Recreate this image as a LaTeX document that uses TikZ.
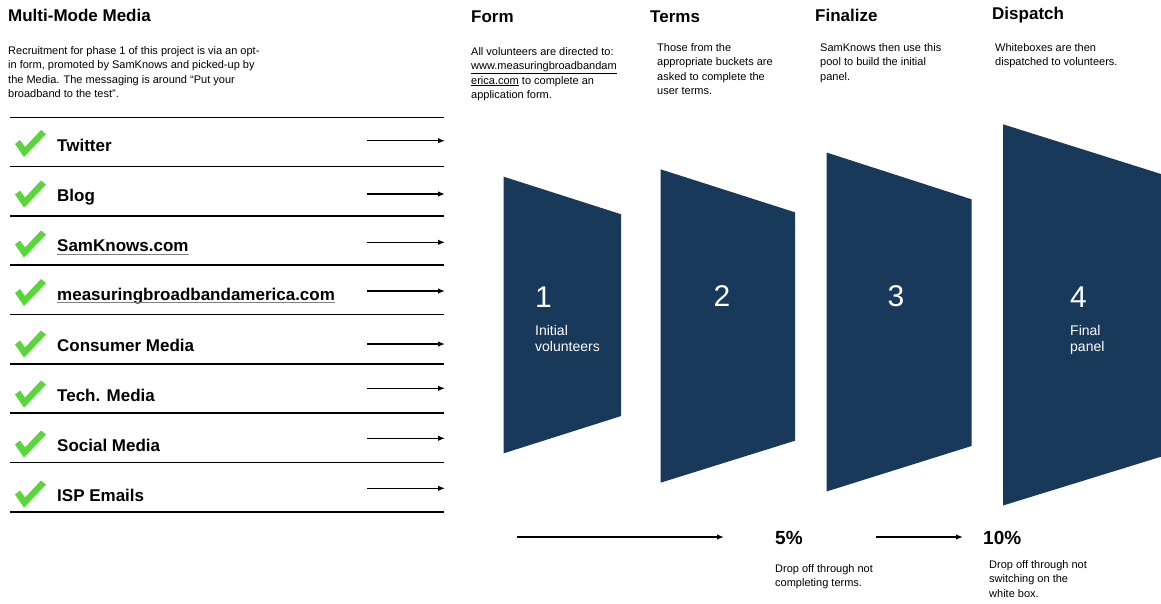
\documentclass[tikz,border=0pt]{standalone}
\usepackage{fontspec}
\setmainfont{Liberation Sans}
\usepackage{xcolor}
\usetikzlibrary{positioning,arrows.meta}
\definecolor{navy}{RGB}{25,57,91}
\definecolor{okgreen}{RGB}{88,214,58}
\tikzset{
  head/.style={anchor=west, inner sep=0pt, font=\fontsize{17}{20}\selectfont\bfseries},
  note/.style={anchor=north west, inner sep=0pt, align=left, font=\fontsize{11}{14.5}\selectfont},
  item/.style={anchor=base west, inner sep=0pt, font=\fontsize{17}{20}\selectfont\bfseries},
  pct/.style={anchor=west, inner sep=0pt, font=\fontsize{19}{22}\selectfont\bfseries},
  rule/.style={line width=1.6pt},
  feed/.style={-{Latex[length=7pt,width=5.5pt]}, line width=1.3pt},
  ulin/.style={gray, line width=0.8pt},
  big/.style={inner sep=0pt, text=white, font=\fontsize{30}{32}\selectfont},
  small/.style={anchor=north west, inner sep=0pt, align=left, text=white, font=\fontsize{14}{16.5}\selectfont},
  pics/okmark/.style={code={\fill[okgreen] (-16,-1) -- (-11,-5) -- (-6,2) -- (10,-15) -- (15,-11) -- (-7,12) -- cycle;}}
}

\begin{document}
\begin{tikzpicture}[x=1pt,y=-1pt]
\fill[white] (0,0) rectangle (1161,603);
\useasboundingbox (0,0) rectangle (1161,603);

\node[head] (mm) at (8,15) {Multi-Mode Media};
\node[note] (intro) at (8,46) {Recruitment for phase 1 of this project is via an opt-\\in form, promoted by SamKnows and picked-up by\\the Media. The messaging is around “Put your\\broadband to the test”.};

\draw[rule] (10,117.3) -- (444,117.3);
\draw[rule] (10,166.6) -- (444,166.6);
\draw[rule] (10,215.9) -- (444,215.9);
\draw[rule] (10,265.2) -- (444,265.2);
\draw[rule] (10,314.5) -- (444,314.5);
\draw[rule] (10,363.8) -- (444,363.8);
\draw[rule] (10,413.1) -- (444,413.1);
\draw[rule] (10,462.4) -- (444,462.4);
\draw[rule] (10,511.7) -- (444,511.7);

\pic at (31,145) {okmark};
\node[item] (tw) at (57,151) {Twitter};
\pic at (31,195.5) {okmark};
\node[item] (blog) at (57,201.7) {Blog};
\pic at (31,245.5) {okmark};
\node[item] (sk) at (57,251.7) {SamKnows.com};
\draw[ulin] ([yshift=-2.5pt]sk.base west) -- ([yshift=-2.5pt]sk.base east);
\pic at (31,294) {okmark};
\node[item] (mba) at (57,300) {measuringbroadbandamerica.com};
\draw[ulin] ([yshift=-2.5pt]mba.base west) -- ([yshift=-2.5pt]mba.base east);
\pic at (31,345.5) {okmark};
\node[item] (cons) at (57,351.7) {Consumer Media};
\pic at (31,395.5) {okmark};
\node[item] (tech) at (57,401.7) {Tech. Media};
\pic at (31,445.5) {okmark};
\node[item] (soc) at (57,451.7) {Social Media};
\pic at (31,495.5) {okmark};
\node[item] (isp) at (57,501.7) {ISP Emails};

\coordinate (tw0) at (367,140.7);   \coordinate (tw1) at (445,140.7);
\coordinate (blog0) at (367,194);   \coordinate (blog1) at (445,194);
\coordinate (sk0) at (367,242.3);   \coordinate (sk1) at (445,242.3);
\coordinate (mba0) at (367,291);    \coordinate (mba1) at (445,291);
\coordinate (cons0) at (367,344);   \coordinate (cons1) at (445,344);
\coordinate (tech0) at (367,388.3); \coordinate (tech1) at (445,388.3);
\coordinate (soc0) at (367,438.3);  \coordinate (soc1) at (445,438.3);
\coordinate (isp0) at (367,488.3);  \coordinate (isp1) at (445,488.3);
\draw[feed] (tw0) -- (tw1);
\draw[feed] (blog0) -- (blog1);
\draw[feed] (sk0) -- (sk1);
\draw[feed] (mba0) -- (mba1);
\draw[feed] (cons0) -- (cons1);
\draw[feed] (tech0) -- (tech1);
\draw[feed] (soc0) -- (soc1);
\draw[feed] (isp0) -- (isp1);

\node[head] (form) at (471,17) {Form};
\node[head] (terms) at (650,17) {Terms};
\node[head] (fin) at (815,15) {Finalize};
\node[head] (disp) at (992,15) {Dispatch};
\node[note] (formtxt) at (471,47) {All volunteers are directed to:\\\underline{www.measuringbroadbandam}\\\underline{erica.com} to complete an\\application form.};
\node[note] (termstxt) at (657,43) {Those from the\\appropriate buckets are\\asked to complete the\\user terms.};
\node[note] (fintxt) at (820,43) {SamKnows then use this\\pool to build the initial\\panel.};
\node[note] (disptxt) at (995,43) {Whiteboxes are then\\dispatched to volunteers.};

\fill[navy] (503.7,176.7) -- (621.2,214.3) -- (621.2,416) -- (503.7,453.3) -- cycle;
\fill[navy] (660.5,169.3) -- (795,212.3) -- (795,440.7) -- (660.5,482.7) -- cycle;
\fill[navy] (826.5,152.5) -- (971.5,199.3) -- (971.5,446) -- (826.5,491.5) -- cycle;
\fill[navy] (1003,124.3) -- (1161,174) -- (1161,456.7) -- (1003,505.5) -- cycle;

\node[big, anchor=base west] (n1) at (535,307) {1};
\node[small] (n1txt) at (535,325) {Initial\\volunteers};
\node[big] (n2) at (722,296) {2};
\node[big] (n3) at (896,296) {3};
\node[big, anchor=base west] (n4) at (1070,307) {4};
\node[small] (n4txt) at (1070,325) {Final\\panel};

\coordinate (drop0) at (517,537); \coordinate (drop1) at (724,537);
\coordinate (drop2) at (876,537); \coordinate (drop3) at (963,537);
\draw[feed] (drop0) -- (drop1);
\draw[feed] (drop2) -- (drop3);
\node[pct] (p5) at (775,538) {5\%};
\node[pct] (p10) at (983,538) {10\%};
\node[note] (p5txt) at (775,564) {Drop off through not\\completing terms.};
\node[note] (p10txt) at (989,560) {Drop off through not\\switching on the\\white box.};
\end{tikzpicture}
\end{document}
